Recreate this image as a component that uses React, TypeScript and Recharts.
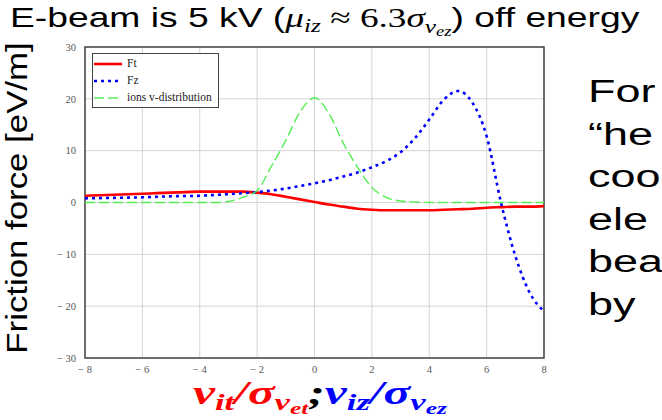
import React from "react";
import {
  LineChart,
  Line,
  XAxis,
  YAxis,
  CartesianGrid,
  ReferenceArea,
} from "recharts";

// velocity in units of sigma
const X_VALUES = [
  -8, -7.5, -7, -6.5, -6, -5.5, -5, -4.5, -4, -3.5, -3, -2.5, -2, -1.5, -1, -0.5,
  0, 0.5, 1, 1.5, 2, 2.5, 3, 3.5, 4, 4.5, 5, 5.5, 6, 6.5, 7, 7.5, 8,
];
const FT = [
  1.3, 1.4, 1.5, 1.6, 1.7, 1.8, 1.9, 2.0, 2.1, 2.1, 2.1, 2.1, 1.9, 1.6, 1.1, 0.6,
  0.1, -0.4, -0.8, -1.2, -1.4, -1.5, -1.5, -1.5, -1.5, -1.4, -1.3, -1.2, -1.0,
  -0.9, -0.8, -0.8, -0.7,
];
const FZ = [
  0.8, 0.85, 0.9, 0.95, 1.0, 1.1, 1.2, 1.25, 1.3, 1.45, 1.6, 1.8, 2.0, 2.3, 2.7,
  3.2, 3.7, 4.3, 5.0, 5.8, 6.8, 8.0, 9.7, 12.4, 16.0, 19.8, 21.5, 19.3, 12.8, 0,
  -10.3, -17.4, -21,
];
const IONS = [
  0, 0, 0, 0, 0, 0, 0, 0, 0, 0, 0.2, 1.0, 2.3, 7.0, 12.0, 17.5, 20.2, 17.2, 11.5,
  6.8, 2.9, 1.0, 0.3, 0.1, 0, 0, 0, 0, 0, 0, 0, 0, 0,
];
const X_TICKS = [-8, -6, -4, -2, 0, 2, 4, 6, 8];
const Y_TICKS = [-30, -20, -10, 0, 10, 20, 30];
const SIDE_TEXT = ["For", "\u201che", "coo", "ele", "bea", "by"];

const SERIES = [
  { key: "ft", name: "Ft", color: "#ff0000", width: 2.6, dash: undefined },
  { key: "fz", name: "Fz", color: "#0000ff", width: 2.6, dash: "3 4" },
  { key: "ions", name: "ions v-distribution", color: "#55ee55", width: 1.4, dash: "10 4" },
];

const data = X_VALUES.map((x, i) => ({ x, ft: FT[i], fz: FZ[i], ions: IONS[i] }));

const fmt = (v: number) => (v < 0 ? `\u2212 ${Math.abs(v)}` : `${v}`);

const tickStyle = {
  fontFamily: "'Liberation Serif', serif",
  fontSize: 10.5,
  fill: "#555",
};

const mathIt = { fontFamily: "'Liberation Serif', serif", fontStyle: "italic" as const };

function LegendBox() {
  return (
    <div
      style={{
        position: "absolute",
        left: 92,
        top: 53,
        border: "1.5px solid #444",
        background: "#fff",
        padding: "1px 6px 1px 1px",
        fontFamily: "'Liberation Serif', serif",
        fontSize: 11.5,
        color: "#222",
        lineHeight: "17px",
      }}
    >
      {SERIES.map((s) => (
        <div key={s.key} style={{ display: "flex", alignItems: "center" }}>
          <svg width={30} height={10} style={{ marginRight: 3 }}>
            <line
              x1={0}
              y1={5}
              x2={28}
              y2={5}
              stroke={s.color}
              strokeWidth={s.width}
              strokeDasharray={s.dash}
            />
          </svg>
          <span>{s.name}</span>
        </div>
      ))}
    </div>
  );
}

export default function App() {
  return (
    <div
      style={{
        position: "absolute",
        left: 0,
        top: 0,
        width: 662,
        height: 420,
        overflow: "hidden",
        background: "#fff",
        fontFamily: "'Liberation Sans', Arial, sans-serif",
      }}
    >
      <div
        style={{
          position: "absolute",
          left: 10,
          top: 0,
          fontSize: 28,
          lineHeight: "36px",
          whiteSpace: "nowrap",
          color: "#000",
          transform: "scaleX(1.33)",
          transformOrigin: "left top",
        }}
      >
        E-beam is 5 kV (
        <span style={{ ...mathIt, fontSize: 28 }}>μ</span>
        <sub style={{ ...mathIt, fontSize: 19, verticalAlign: "-5px" }}>iz</sub>
        <span style={{ fontFamily: "'Liberation Serif', serif", fontSize: 28 }}> ≈ 6.3</span>
        <span style={{ ...mathIt, fontSize: 28 }}>σ</span>
        <sub style={{ ...mathIt, fontSize: 19, verticalAlign: "-6px" }}>
          v<sub style={{ fontSize: 14, verticalAlign: "-3px" }}>ez</sub>
        </sub>
        ) off energy
      </div>

      <div
        style={{
          position: "absolute",
          left: 17,
          top: 198,
          transform: "translate(-50%, -50%) rotate(-90deg) scaleX(1.2)",
          fontSize: 29,
          whiteSpace: "nowrap",
        }}
      >
        Friction force [eV/m]
      </div>

      <LineChart
        width={662}
        height={420}
        data={data}
        margin={{ top: 47, right: 118, bottom: 42, left: 55 }}
        style={{ position: "absolute", left: 0, top: 0 }}
      >
        <CartesianGrid stroke="#d4d4d4" strokeWidth={1} />
        <XAxis
          dataKey="x"
          type="number"
          domain={[-8, 8]}
          ticks={X_TICKS}
          tickFormatter={fmt}
          height={20}
          axisLine={false}
          tickLine={false}
          tickMargin={2}
          tick={tickStyle}
          interval={0}
        />
        <YAxis
          type="number"
          domain={[-30, 30]}
          ticks={Y_TICKS}
          tickFormatter={fmt}
          width={30}
          axisLine={false}
          tickLine={false}
          tickMargin={3}
          tick={tickStyle}
          interval={0}
        />
        <ReferenceArea
          x1={-8}
          x2={8}
          y1={-30}
          y2={30}
          fill="none"
          stroke="#444"
          strokeWidth={1.5}
        />
        {SERIES.map((s) => (
          <Line
            key={s.key}
            dataKey={s.key}
            name={s.name}
            type="monotone"
            stroke={s.color}
            strokeWidth={s.width}
            strokeDasharray={s.dash}
            dot={false}
            activeDot={false}
            isAnimationActive={false}
          />
        ))}
      </LineChart>

      <LegendBox />

      <div
        style={{
          position: "absolute",
          left: 193,
          top: 378,
          fontFamily: "'Liberation Serif', serif",
          fontStyle: "italic",
          fontWeight: "bold",
          fontSize: 33,
          lineHeight: "30px",
          whiteSpace: "nowrap",
          transform: "scaleX(1.5)",
          transformOrigin: "left top",
        }}
      >
        <span style={{ color: "#ff0000" }}>
          v<sub style={{ fontSize: 23, verticalAlign: "-6px" }}>it</sub>/σ
          <sub style={{ fontSize: 23, verticalAlign: "-6px" }}>
            v<sub style={{ fontSize: 17, verticalAlign: "-4px" }}>et</sub>
          </sub>
        </span>
        <span style={{ color: "#000" }}>;</span>
        <span style={{ color: "#0000ff" }}>
          v<sub style={{ fontSize: 23, verticalAlign: "-6px" }}>iz</sub>/σ
          <sub style={{ fontSize: 23, verticalAlign: "-6px" }}>
            v<sub style={{ fontSize: 17, verticalAlign: "-4px" }}>ez</sub>
          </sub>
        </span>
      </div>

      {SIDE_TEXT.map((t, i) => (
        <div
          key={t}
          style={{
            position: "absolute",
            left: 588,
            top: 74 + i * 42.5,
            fontSize: 31,
            whiteSpace: "nowrap",
            transform: "scaleX(1.45)",
            transformOrigin: "left",
          }}
        >
          {t}
        </div>
      ))}
    </div>
  );
}
